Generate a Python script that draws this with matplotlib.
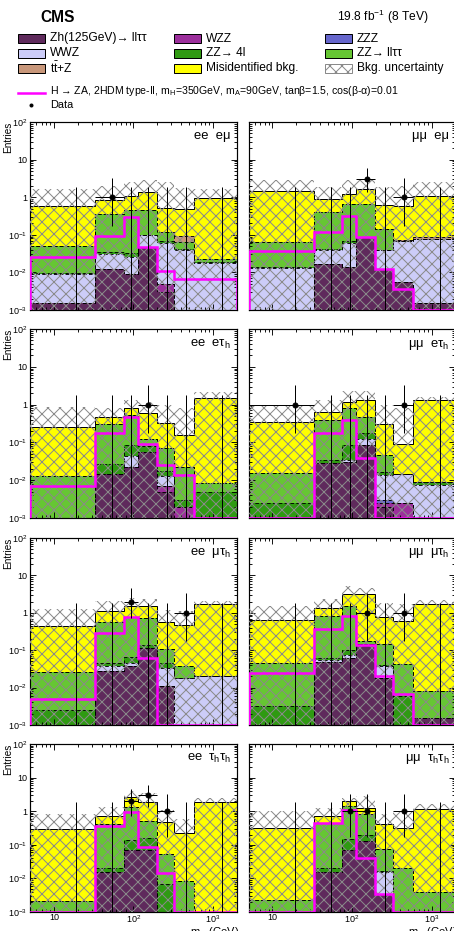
import matplotlib.pyplot as plt
import numpy as np
from matplotlib.patches import Rectangle
from matplotlib.lines import Line2D
from matplotlib.ticker import LogLocator, NullFormatter

plt.rcParams['font.family'] = ['Liberation Sans', 'DejaVu Sans']
plt.rcParams['mathtext.fontset'] = 'custom'
plt.rcParams['mathtext.rm'] = 'Liberation Sans'
plt.rcParams['mathtext.it'] = 'Liberation Sans:italic'
plt.rcParams['mathtext.bf'] = 'Liberation Sans:bold'
plt.rcParams['hatch.color'] = '#8a8a8a'
plt.rcParams['hatch.linewidth'] = 1.0

# m_tautau binning (GeV)
bin_edges = [5, 33, 75, 113, 195, 325, 580, 2000]

panel_labels = ['ee  eμ', 'μμ  eμ',
                r'ee  eτ$_{\rm h}$', r'μμ  eτ$_{\rm h}$',
                r'ee  μτ$_{\rm h}$', r'μμ  μτ$_{\rm h}$',
                r'ee  τ$_{\rm h}$τ$_{\rm h}$', r'μμ  τ$_{\rm h}$τ$_{\rm h}$']

# background yields per panel (rows) and bin (columns), in stacking order
zh = [[0.0015, 0.012, 0.009, 0.047, 0.003, 0, 0],
      [0, 0.017, 0.014, 0.087, 0.012, 0.0055, 0.0015],
      [0, 0.015, 0.023, 0.056, 0.005, 0, 0],
      [0, 0.028, 0.03, 0.083, 0.002, 0, 0],
      [0, 0.028, 0.038, 0.118, 0.011, 0, 0],
      [0, 0.047, 0.062, 0.15, 0.018, 0, 0.0015],
      [0, 0.015, 0.068, 0.072, 0, 0, 0],
      [0, 0.016, 0.068, 0.126, 0.0035, 0, 0]]
wzz = [[0, 0, 0, 0, 0.002, 0.001, 0],
       [0, 0, 0, 0, 0, 0, 0],
       [0, 0, 0, 0, 0.002, 0.002, 0],
       [0, 0, 0, 0, 0.0005, 0.0025, 0],
       [0, 0, 0, 0, 0, 0, 0],
       [0, 0, 0, 0, 0, 0, 0],
       [0, 0, 0, 0, 0, 0, 0],
       [0, 0, 0, 0, 0, 0, 0]]
zzz = [[0, 0, 0, 0, 0, 0, 0],
       [0, 0, 0, 0, 0, 0, 0],
       [0, 0, 0, 0, 0, 0, 0],
       [0, 0, 0, 0, 0.0005, 0, 0],
       [0, 0, 0, 0, 0, 0, 0],
       [0, 0, 0, 0, 0, 0, 0],
       [0, 0, 0, 0, 0, 0, 0],
       [0, 0, 0, 0, 0, 0, 0]]
wwz = [[0.0075, 0.019, 0.016, 0.053, 0.055, 0.039, 0.018],
       [0.013, 0.023, 0.046, 0, 0.027, 0.0645, 0.0735],
       [0, 0, 0.022, 0, 0.006, 0, 0],
       [0, 0, 0.005, 0.037, 0.011, 0.012, 0.0075],
       [0, 0.009, 0.007, 0, 0.023, 0.018, 0.02],
       [0, 0.008, 0.013, 0, 0.02, 0, 0],
       [0, 0, 0, 0, 0, 0, 0],
       [0, 0, 0, 0, 0.0125, 0, 0]]
zz4l = [[0.0005, 0.004, 0.008, 0, 0.01, 0.002, 0.001],
        [0.001, 0.002, 0.01, 0.003, 0.001, 0, 0],
        [0, 0.012, 0.038, 0.024, 0.004, 0.001, 0.0048],
        [0.0025, 0.007, 0.051, 0.06, 0.002, 0, 0.0015],
        [0.0025, 0.008, 0.022, 0.022, 0.011, 0, 0],
        [0.0033, 0.005, 0.025, 0, 0.002, 0.006, 0],
        [0, 0.005, 0.072, 0.088, 0.007, 0, 0],
        [0, 0.004, 0.082, 0.074, 0.001, 0, 0]]
zzlltt = [[0.0395, 0.315, 0.437, 0.37, 0.05, 0.023, 0.004],
          [0.049, 0.358, 0.58, 0.56, 0.1, 0, 0],
          [0.0126, 0.273, 0.447, 0.046, 0.052, 0.019, 0.0037],
          [0.013, 0.355, 0.704, 0.3, 0.03, 0, 0],
          [0.0235, 0.535, 0.703, 0.57, 0.06, 0.02, 0],
          [0.0417, 0.75, 1.4, 0.03, 0.11, 0.036, 0.0067],
          [0.0021, 0.39, 1.24, 0.35, 0.047, 0.0085, 0],
          [0.0022, 0.44, 1.25, 0.65, 0.057, 0.02, 0.004]]
ttz = [[0, 0, 0, 0, 0, 0.029, 0],
       [0, 0, 0, 0, 0, 0.003, 0.01],
       [0, 0, 0, 0, 0, 0, 0],
       [0, 0, 0, 0, 0, 0, 0],
       [0, 0, 0, 0, 0, 0, 0],
       [0, 0, 0, 0, 0, 0, 0],
       [0, 0, 0, 0, 0, 0, 0],
       [0, 0, 0, 0, 0, 0, 0]]
fake = [[0.52, 0.5, 0.58, 0.89, 0.4, 0.406, 0.937],
        [1.39, 0.5, 0.55, 1.02, 0.49, 0.5, 1.015],
        [0.237, 0.18, 0.27, 0.464, 0.251, 0.133, 1.45],
        [0.3245, 0.23, 0.41, 0.84, 0.254, 0.075, 1.311],
        [0.424, 0.57, 0.73, 0.79, 0.475, 0.442, 1.68],
        [0.615, 0.55, 1.6, 3.02, 0.62, 0.578, 1.742],
        [0.288, 0.33, 1.22, 1.35, 0.416, 0.2215, 1.86],
        [0.318, 0.28, 0.6, 0.4, 0.356, 0.3, 1.196]]

# upper edge of the background uncertainty band
unc_up = [[1.67, 2.0, 2.5, 2.8, 2.5, 1.8, 1.67],
          [2.8, 1.9, 2.8, 2.8, 1.9, 2.0, 2.5],
          [0.85, 0.8, 1.3, 1.2, 1.0, 0.8, 2.2],
          [0.92, 1.3, 2.3, 2.3, 1.0, 0.8, 1.6],
          [1.23, 2.05, 2.5, 2.3, 1.2, 1.1, 2.1],
          [1.5, 2.3, 5.2, 4.6, 1.85, 1.7, 2.2],
          [0.81, 1.3, 3.9, 3.5, 1.1, 0.6, 2.5],
          [1.0, 1.25, 2.5, 2.8, 0.85, 1.0, 1.6]]

# H -> ZA signal
signal = [[0.025, 0.095, 0.3, 0.047, 0.011, 0.0067, 0.0065],
          [0.038, 0.12, 0.32, 0.087, 0.012, 0.0036, 0.001],
          [0.0072, 0.18, 0.46, 0.089, 0.026, 0.0134, 0.001],
          [0.001, 0.18, 0.4, 0.039, 0.001, 0.001, 0.001],
          [0.0051, 0.28, 0.77, 0.06, 0.001, 0.001, 0.001],
          [0.025, 0.36, 0.81, 0.14, 0.02, 0.0066, 0.001],
          [0.001, 0.37, 0.93, 0.085, 0.0144, 0.001, 0.001],
          [0.001, 0.45, 1.07, 0.04, 0.0034, 0.001, 0.001]]

# observed events
data = [[0, 1, 0, 0, 0, 0, 0],
        [0, 0, 0, 3, 0, 1, 0],
        [0, 0, 0, 1, 0, 0, 0],
        [1, 0, 0, 0, 0, 1, 0],
        [0, 0, 2, 0, 0, 1, 0],
        [0, 0, 0, 1, 0, 1, 0],
        [0, 0, 2, 3, 1, 0, 0],
        [0, 0, 1, 1, 0, 1, 0]]

# Garwood intervals for small counts
pois_lo = {0: 0.0, 1: 0.827, 2: 1.292, 3: 1.633}
pois_hi = {0: 1.841, 1: 2.300, 2: 2.638, 3: 2.918}

components = [zh, wzz, zzz, wwz, zz4l, zzlltt, ttz, fake]
colors = ['#5f2a5c', '#9c2f9c', '#6666cc', '#ccccf8', '#2f9a12', '#66c633', '#c8977a', '#ffff00']
sig_color = '#ff00ff'
unc_color = '#8a8a8a'

W, H = 454, 931
fig = plt.figure(figsize=(W / 72, H / 72), dpi=72)

col_x = [30, 248.5]
row_y = [(122, 310), (329, 518), (538, 725), (744, 912)]
edges = np.array(bin_edges, dtype=float)
centers = 0.5 * (edges[:-1] + edges[1:])
halfw = 0.5 * (edges[1:] - edges[:-1])
tiny = 1e-6

for i in range(8):
    r, c = divmod(i, 2)
    top, bot = row_y[r]
    ax = fig.add_axes([col_x[c] / W, 1 - bot / H, 207 / W, (bot - top) / H])
    ax.set_xscale('log')
    ax.set_yscale('log')

    base = np.zeros(7)
    for comp, col in zip(components, colors):
        vals = np.array(comp[i], dtype=float)
        topv = base + vals
        ax.stairs(np.maximum(topv, tiny), edges, baseline=np.maximum(base, tiny),
                  fill=True, color=col, lw=0, zorder=1)
        base = topv
    # outlines of the stack
    base = np.zeros(7)
    for k, comp in enumerate(components):
        base = base + np.array(comp[i], dtype=float)
        last = k == len(components) - 1
        ax.stairs(np.maximum(base, tiny), edges, baseline=None, color='k',
                  lw=1.0 if last else 0.9, ls='-' if last else (0, (4, 2.5)), zorder=2)

    ax.stairs(unc_up[i], edges, baseline=tiny, fill=True, facecolor='none',
              edgecolor=unc_color, hatch='xx', lw=0, zorder=3)

    ax.stairs(signal[i], edges, baseline=tiny, color=sig_color, lw=2.5, zorder=4)

    d = np.array(data[i])
    nz = d > 0
    ax.errorbar(centers[nz], d[nz], xerr=halfw[nz],
                yerr=[[pois_lo[n] for n in d[nz]], [pois_hi[n] for n in d[nz]]],
                fmt='o', color='k', ms=5, lw=1, capsize=0, zorder=5)
    ax.vlines(centers[~nz], tiny, pois_hi[0], color='k', lw=1, zorder=5)

    ax.set_xlim(5, 2000)
    ax.set_ylim(1e-3, 1e2)
    ax.set_xticks([10, 100, 1000])
    ax.xaxis.set_minor_locator(LogLocator(base=10, subs=np.arange(2, 10)))
    ax.xaxis.set_minor_formatter(NullFormatter())
    ax.set_yticks([1e-3, 1e-2, 1e-1, 1, 10, 100])
    ax.yaxis.set_minor_locator(LogLocator(base=10, subs=np.arange(2, 10), numticks=20))
    ax.yaxis.set_minor_formatter(NullFormatter())
    ax.tick_params(which='both', direction='in', top=True, right=True,
                   labelsize=9, pad=3, width=0.9)
    ax.tick_params(which='major', length=6)
    ax.tick_params(which='minor', length=3)
    for s in ax.spines.values():
        s.set_linewidth(1.2)

    if c == 0:
        ax.set_yticklabels([r'$10^{-3}$', r'$10^{-2}$', r'$10^{-1}$', '1', '10', r'$10^{2}$'])
        ax.set_ylabel('Entries', loc='top', fontsize=10)
        ax.yaxis.set_label_coords(-0.08, 1.0)
    else:
        ax.tick_params(labelleft=False)
    if r == 3:
        ax.set_xticklabels(['10', r'$10^{2}$', r'$10^{3}$'])
        ax.tick_params(axis='x', pad=1.5)
    else:
        ax.tick_params(labelbottom=False)

    ax.text(0.97, 0.955, panel_labels[i], transform=ax.transAxes,
            ha='right', va='top', fontsize=13)

# x axis titles (cut at the bottom edge, as in the original)
for cx in col_x:
    fig.text((cx + 209) / W, 1 - 925 / H, r'm$_{\tau\tau}$ (GeV)', ha='right', va='top', fontsize=11)

# header
fig.text(40 / W, 1 - 17 / H, 'CMS', fontsize=15.5, fontweight='bold', ha='left', va='center')
fig.text(428 / W, 1 - 17 / H, r'19.8 fb$^{-1}$ (8 TeV)', fontsize=12, ha='right', va='center')

# legend
leg_names = ['Zh(125GeV)→ llττ', 'WZZ', 'ZZZ',
             'WWZ', 'ZZ→ 4l', 'ZZ→ llττ',
             r't$\bar{\rm t}$+Z', 'Misidentified bkg.', 'Bkg. uncertainty']
leg_colors = [colors[0], colors[1], colors[2],
              colors[3], colors[4], colors[5],
              colors[6], colors[7], None]
box_x = [18, 174, 325]
box_y = [38.5, 53, 68]
for k, (name, col) in enumerate(zip(leg_names, leg_colors)):
    rr, cc = divmod(k, 3)
    x0, yc = box_x[cc], box_y[rr]
    if col is None:
        fig.add_artist(Rectangle((x0 / W, 1 - (yc + 4.5) / H), 27 / W, 9 / H,
                                 transform=fig.transFigure, facecolor='white',
                                 edgecolor=unc_color, hatch='xx', lw=1))
    else:
        fig.add_artist(Rectangle((x0 / W, 1 - (yc + 4.5) / H), 27 / W, 9 / H,
                                 transform=fig.transFigure, facecolor=col,
                                 edgecolor='k', lw=1))
    fig.text((x0 + 32) / W, 1 - yc / H, name, fontsize=12, ha='left', va='center')

fig.add_artist(Line2D([18 / W, 45 / W], [1 - 93 / H, 1 - 93 / H], color=sig_color, lw=2.5,
                      transform=fig.transFigure))
fig.text(50 / W, 1 - 91 / H,
         r'H → ZA, 2HDM type-II, m$_{\rm H}$=350GeV, m$_{\rm A}$=90GeV, tanβ=1.5, cos(β-α)=0.01',
         fontsize=10.5, ha='left', va='center')
fig.add_artist(Line2D([31 / W], [1 - 105 / H], marker='o', ms=3, color='k', lw=0,
                      transform=fig.transFigure))
fig.text(50 / W, 1 - 105 / H, 'Data', fontsize=11, ha='left', va='center')

fig.savefig('out.png', dpi=72)
